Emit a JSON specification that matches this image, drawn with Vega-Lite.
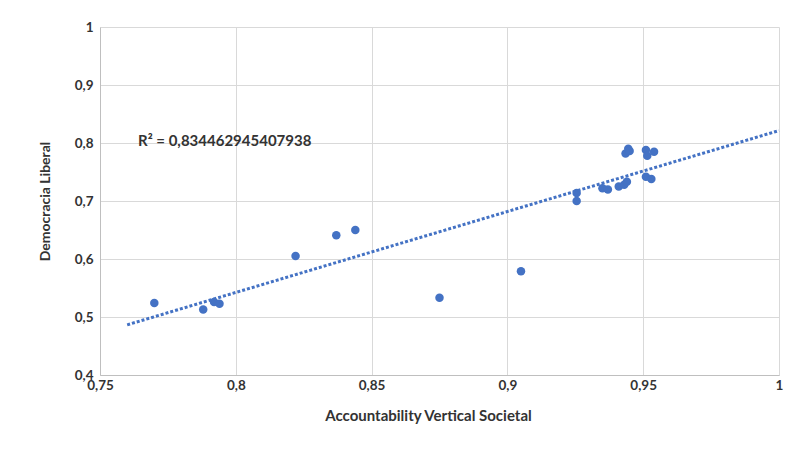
{
  "$schema": "https://vega.github.io/schema/vega-lite/v6.json",
  "width": 679,
  "height": 348,
  "autosize": "none",
  "padding": {"left": 100, "top": 27, "right": 13, "bottom": 75},
  "background": "white",
  "config": {
    "view": {"stroke": null},
    "font": "Lato",
    "axis": {
      "gridColor": "#d9d9d9",
      "domainColor": "#bfbfbf",
      "ticks": false,
      "labelFont": "Lato",
      "labelFontWeight": "bold",
      "labelFontSize": 13.5,
      "labelColor": "#333333",
      "titleFont": "Lato",
      "titleFontWeight": "bold",
      "titleFontSize": 15,
      "titleColor": "#333333"
    }
  },
  "data": {
    "values": [
      {"avs": 0.770, "dl": 0.524},
      {"avs": 0.788, "dl": 0.513},
      {"avs": 0.792, "dl": 0.526},
      {"avs": 0.794, "dl": 0.523},
      {"avs": 0.822, "dl": 0.605},
      {"avs": 0.837, "dl": 0.641},
      {"avs": 0.844, "dl": 0.650},
      {"avs": 0.875, "dl": 0.533},
      {"avs": 0.905, "dl": 0.579},
      {"avs": 0.9255, "dl": 0.714},
      {"avs": 0.9255, "dl": 0.700},
      {"avs": 0.935, "dl": 0.722},
      {"avs": 0.937, "dl": 0.720},
      {"avs": 0.941, "dl": 0.725},
      {"avs": 0.943, "dl": 0.728},
      {"avs": 0.944, "dl": 0.733},
      {"avs": 0.9435, "dl": 0.782},
      {"avs": 0.9445, "dl": 0.790},
      {"avs": 0.945, "dl": 0.786},
      {"avs": 0.951, "dl": 0.788},
      {"avs": 0.9515, "dl": 0.778},
      {"avs": 0.954, "dl": 0.785},
      {"avs": 0.951, "dl": 0.742},
      {"avs": 0.953, "dl": 0.738}
    ]
  },
  "layer": [
    {
      "mark": {"type": "circle", "size": 72, "color": "#4472C4", "opacity": 1},
      "encoding": {
        "x": {
          "field": "avs",
          "type": "quantitative",
          "scale": {"domain": [0.75, 1], "nice": false, "zero": false},
          "axis": {
            "title": "Accountability Vertical Societal",
            "values": [0.75, 0.8, 0.85, 0.9, 0.95, 1],
            "labelExpr": "replace(format(datum.value, '~g'), '.', ',')",
            "labelPadding": 3,
            "labelFlush": false,
            "titleX": 328,
            "titleAlign": "center",
            "titlePadding": 17
          }
        },
        "y": {
          "field": "dl",
          "type": "quantitative",
          "scale": {"domain": [0.4, 1], "nice": false, "zero": false},
          "axis": {
            "title": "Democracia Liberal",
            "titleFontSize": 14,
            "values": [0.4, 0.5, 0.6, 0.7, 0.8, 0.9, 1],
            "labelExpr": "replace(format(datum.value, '~g'), '.', ',')",
            "labelPadding": 7,
            "labelFlush": false,
            "titlePadding": 22
          }
        }
      }
    },
    {
      "transform": [{"regression": "dl", "on": "avs", "extent": [0.76, 1]}],
      "mark": {"type": "line", "color": "#4472C4", "strokeWidth": 3, "strokeDash": [3, 2], "strokeCap": "butt"},
      "encoding": {
        "x": {"field": "avs", "type": "quantitative", "scale": {"domain": [0.75, 1], "nice": false, "zero": false}},
        "y": {"field": "dl", "type": "quantitative", "scale": {"domain": [0.4, 1], "nice": false, "zero": false}}
      }
    },
    {
      "data": {"values": [{"avs": 0.764, "dl": 0.8034, "label": "R² = 0,834462945407938"}]},
      "mark": {"type": "text", "align": "left", "baseline": "middle", "font": "Lato", "fontWeight": "bold", "fontSize": 15, "color": "#333333"},
      "encoding": {
        "x": {"field": "avs", "type": "quantitative", "scale": {"domain": [0.75, 1], "nice": false, "zero": false}},
        "y": {"field": "dl", "type": "quantitative", "scale": {"domain": [0.4, 1], "nice": false, "zero": false}},
        "text": {"field": "label"}
      }
    }
  ]
}
